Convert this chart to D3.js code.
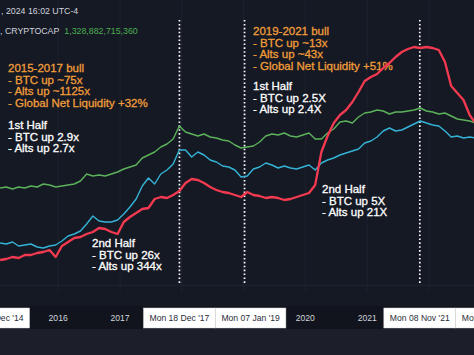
<!DOCTYPE html>
<html><head><meta charset="utf-8">
<script src="https://cdn.jsdelivr.net/npm/d3@7"></script>
<style>html,body{margin:0;padding:0;background:#161a25;overflow:hidden}</style>
</head><body><svg id="c" width="474" height="355"></svg>
<script>
// ---------- data ----------
const startYear = 2015.06, stepYear = 0.1;   // sampling of the series (decimal years)
// values are log10 of each normalised series (log chart)
const greenSeries = [
 1.12,1.13,1.11,1.13,1.12,1.14,1.13,1.16,1.15,1.13,
 1.14,1.15,1.16,1.19,1.26,1.24,1.25,1.24,1.26,1.28,
 1.31,1.33,1.35,1.42,1.45,1.48,1.53,1.56,1.61,1.74,
 1.68,1.66,1.64,1.66,1.63,1.62,1.60,1.59,1.55,1.52,
 1.53,1.54,1.58,1.64,1.66,1.65,1.67,1.64,1.63,1.65,
 1.67,1.61,1.61,1.67,1.71,1.78,1.79,1.77,1.83,1.87,
 1.88,1.90,1.89,1.86,1.88,1.88,1.89,1.90,1.92,1.89,
 1.88,1.86,1.87,1.84,1.81,1.80,1.79,1.77];
const blueSeries = [
 0.57,0.56,0.58,0.54,0.55,0.56,0.53,0.52,0.54,0.55,
 0.59,0.64,0.66,0.69,0.76,0.84,0.79,0.78,0.78,0.80,
 0.86,0.93,1.01,1.14,1.22,1.16,1.26,1.30,1.36,1.50,
 1.50,1.43,1.48,1.45,1.40,1.38,1.34,1.33,1.30,1.23,
 1.24,1.31,1.33,1.37,1.35,1.32,1.34,1.32,1.31,1.33,
 1.35,1.30,1.37,1.40,1.42,1.45,1.47,1.49,1.51,1.57,
 1.59,1.63,1.69,1.72,1.69,1.70,1.73,1.76,1.79,1.77,
 1.75,1.74,1.69,1.63,1.64,1.62,1.63,1.62];
const redSeries = [
 0.40,0.41,0.43,0.42,0.45,0.45,0.47,0.48,0.50,0.43,
 0.54,0.58,0.62,0.63,0.66,0.68,0.72,0.71,0.68,0.66,
 0.78,0.83,0.87,0.91,0.92,1.01,1.03,1.02,1.05,1.09,
 1.17,1.21,1.20,1.17,1.13,1.10,1.08,1.07,1.05,1.03,
 1.08,1.05,1.04,1.02,1.03,1.02,1.00,1.01,1.03,1.05,
 1.07,1.15,1.48,1.64,1.77,1.85,1.90,1.98,2.08,2.19,
 2.23,2.26,2.32,2.37,2.43,2.48,2.51,2.53,2.52,2.53,
 2.52,2.50,2.38,2.14,2.07,2.00,1.85,1.76];
const yearTicks = ["2015","2016","2017","2018","2019","2020","2021","2022"];
const markerDates = ["2014-12-15","2017-12-18","2019-01-07","2021-11-08","2022-11-21"];
const markerLabels = ["Mon 15 Dec '14","Mon 18 Dec '17","Mon 07 Jan '19","Mon 08 Nov '21","Mon 21 Nov '22"];
const dottedDates = ["2017-12-18","2019-01-07","2021-11-08"];
const headerTime = ", 2024 16:02 UTC-4";
const headerSymbol = ", CRYPTOCAP";
const headerValue = "1,328,882,715,360";
const noteBull1 = ["2015-2017 bull","- BTC up ~75x","- Alts up ~1125x","- Global Net Liquidity +32%"];
const noteHalf1a = ["1st Half","- BTC up 2.9x","- Alts up 2.7x"];
const noteHalf1b = ["2nd Half","- BTC up 26x","- Alts up 344x"];
const noteBull2 = ["2019-2021 bull","- BTC up ~13x","- Alts up ~43x","- Global Net Liquidity +51%"];
const noteHalf2a = ["1st Half","- BTC up 2.5X","- Alts up 2.4X"];
const noteHalf2b = ["2nd Half","- BTC up 5X","- Alts up 21X"];

// ---------- layout ----------
const W = 474, H = 355;
const paneBottom = 292, axisTop = 306, axisBottom = 329;
const FONT = "'Liberation Sans', Arial, sans-serif";
const C = {bg:"#151924", axisBand:"#11141d", foot:"#1c1f2a", grid:"#1e2230",
           text:"#d1d4dc", green:"#5cb25a", blue:"#35b3d6", red:"#f43a50",
           orange:"#f09d3a", white:"#ffffff", valueGreen:"#4caf50"};

const svg = d3.select("#c");
const parse = d3.utcParse("%Y-%m-%d");
const yearToDate = y => { const yr = Math.floor(y); const a = Date.UTC(yr,0,1), b = Date.UTC(yr+1,0,1); return new Date(a + (y-yr)*(b-a)); };

const x = d3.scaleUtc().domain([yearToDate(2015.058), yearToDate(2022.73)]).range([0, W]);
const y = d3.scaleLinear().domain([0, 3]).range([300, 0]);

// backgrounds
svg.append("rect").attr("width",W).attr("height",H).attr("fill",C.bg);
svg.append("rect").attr("y",axisTop).attr("width",W).attr("height",axisBottom-axisTop).attr("fill",C.axisBand);
svg.append("rect").attr("y",axisBottom).attr("width",W).attr("height",H-axisBottom).attr("fill",C.foot);

// grid
const yearDates = yearTicks.map(t => new Date(Date.UTC(+t,0,1)));
svg.append("g").selectAll("line").data(yearDates).join("line")
  .attr("x1",d=>x(d)).attr("x2",d=>x(d)).attr("y1",0).attr("y2",paneBottom)
  .attr("stroke",C.grid).attr("stroke-width",1);
svg.append("line").attr("x1",0).attr("x2",W).attr("y1",paneBottom-6.5).attr("y2",paneBottom-6.5)
  .attr("stroke",C.grid).attr("stroke-width",1);

// header
svg.append("text").attr("x",1).attr("y",14).attr("fill",C.text)
  .attr("font-family",FONT).attr("font-size",8.8).text(headerTime);
const hdr = svg.append("text").attr("x",0).attr("y",34).attr("font-family",FONT).attr("font-size",8.8);
hdr.append("tspan").attr("fill",C.text).text(headerSymbol);
hdr.append("tspan").attr("fill",C.valueGreen).attr("dx",5).text(headerValue);

// annotations
function note(lines, color, px, py){
  const t = svg.append("text").attr("font-family",FONT).attr("font-size",11.5).attr("fill",color)
    .attr("stroke",color).attr("stroke-width",0.3);
  lines.forEach((l,i)=> t.append("tspan").attr("x",px).attr("y",py + i*11.5).text(l));
}
note(noteBull1, C.orange, 8, 72);
note(noteHalf1a, C.white, 8, 129);
note(noteHalf1b, C.white, 92, 247);
note(noteBull2, C.orange, 253, 35);
note(noteHalf2a, C.white, 253, 90);
note(noteHalf2b, C.white, 322, 193);

// dotted event lines
svg.append("g").selectAll("line").data(dottedDates.map(parse)).join("line")
  .attr("x1",d=>x(d)).attr("x2",d=>x(d)).attr("y1",20).attr("y2",284)
  .attr("stroke","#ffffff").attr("stroke-width",1.7).attr("stroke-dasharray","1.6,2.3");

// series
svg.append("clipPath").attr("id","pane").append("rect").attr("width",W).attr("height",paneBottom);
const line = d3.line().x((d,i)=>x(yearToDate(startYear + i*stepYear))).y(d=>y(d));
const g = svg.append("g").attr("clip-path","url(#pane)");
[[greenSeries,C.green,1.4],[blueSeries,C.blue,1.4],[redSeries,C.red,2.3]].forEach(([s,c,w])=>{
  g.append("path").datum(s).attr("d",line).attr("fill","none").attr("stroke",c)
   .attr("stroke-width",w).attr("stroke-linejoin","round");
});

// time axis: marker boxes (pushed apart like the original) and year ticks
const axisFont = 8.6, labelY = 321;
const boxes = [];
let prevRight = -Infinity;
markerDates.forEach((d,i)=>{
  const tmp = svg.append("text").attr("font-family",FONT).attr("font-size",axisFont).text(markerLabels[i]);
  const tw = tmp.node().getComputedTextLength(); tmp.remove();
  const w = tw + 12;
  let left = x(parse(d)) - w/2;
  if (left < prevRight) left = prevRight;
  prevRight = left + w;
  boxes.push({left, w, label: markerLabels[i]});
});
const ag = svg.append("g");
yearTicks.forEach((t,i)=>{
  const cx = x(yearDates[i]);
  const hidden = boxes.some(b => cx + 12 > b.left && cx - 12 < b.left + b.w);
  if (hidden) return;
  ag.append("text").attr("x",cx).attr("y",labelY).attr("text-anchor","middle")
    .attr("font-family",FONT).attr("font-size",axisFont).attr("fill",C.text).text(t);
});
boxes.forEach(b=>{
  ag.append("rect").attr("x",b.left).attr("y",axisTop+2).attr("width",b.w).attr("height",axisBottom-axisTop-3)
    .attr("fill","#ffffff").attr("stroke","#d8d8d8").attr("stroke-width",0.5);
  ag.append("text").attr("x",b.left+b.w/2).attr("y",labelY).attr("text-anchor","middle")
    .attr("font-family",FONT).attr("font-size",axisFont).attr("fill","#2a2e39").text(b.label);
});
</script></body></html>
